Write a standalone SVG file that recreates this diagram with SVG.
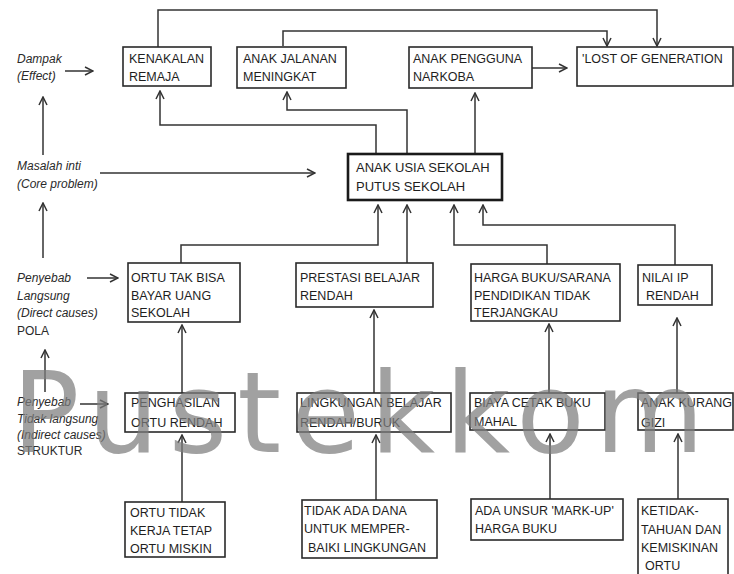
<svg xmlns="http://www.w3.org/2000/svg" width="734" height="574" viewBox="0 0 734 574">
<style>
.box{fill:#fff;stroke:#2a2a2a;stroke-width:1.6}
.core{fill:#fff;stroke:#1a1a1a;stroke-width:2.6}
.t{font-family:"Liberation Sans",Arial,sans-serif;font-size:12.5px;fill:#1e1e1e}
.tc{font-family:"Liberation Sans",Arial,sans-serif;font-size:13px;fill:#1e1e1e}
.lab{font-family:"Liberation Sans",Arial,sans-serif;font-size:12px;font-style:italic;fill:#2a2a2a}
.labn{font-family:"Liberation Sans",Arial,sans-serif;font-size:12px;fill:#2a2a2a}
.c{fill:none;stroke:#333;stroke-width:1.5}
.wm{font-family:"DejaVu Sans",sans-serif;font-size:112px;fill:#7d7d7d;opacity:0.72}
</style>
<defs>
<marker id="arr" viewBox="0 0 10 10" refX="9" refY="5" markerWidth="10" markerHeight="10" markerUnits="userSpaceOnUse" orient="auto">
<path d="M1,1 L9,5 L1,9" fill="none" stroke="#333" stroke-width="1.5"/>
</marker>
</defs>
<rect width="734" height="574" fill="#fff"/>

<g id="connectors">
<path class="c" d="M158,47 V10 H657 V46" marker-end="url(#arr)"/>
<path class="c" d="M283,46 V31 H607 V46" marker-end="url(#arr)"/>
<path class="c" d="M532,68 H567" marker-end="url(#arr)"/>
<path class="c" d="M376,154 V125 H160 V91" marker-end="url(#arr)"/>
<path class="c" d="M407,154 V110 H287 V92" marker-end="url(#arr)"/>
<path class="c" d="M475,154 V93" marker-end="url(#arr)"/>
<path class="c" d="M181,263 V245 H378 V205" marker-end="url(#arr)"/>
<path class="c" d="M407,263 V205" marker-end="url(#arr)"/>
<path class="c" d="M547,264 V245 H454 V205" marker-end="url(#arr)"/>
<path class="c" d="M675,265 V225 H483 V205" marker-end="url(#arr)"/>
<path class="c" d="M182,393 V325" marker-end="url(#arr)"/>
<path class="c" d="M374,393 V310" marker-end="url(#arr)"/>
<path class="c" d="M549,393 V324" marker-end="url(#arr)"/>
<path class="c" d="M677,393 V318" marker-end="url(#arr)"/>
<path class="c" d="M182,502 V435" marker-end="url(#arr)"/>
<path class="c" d="M376,500 V435" marker-end="url(#arr)"/>
<path class="c" d="M550,499 V434" marker-end="url(#arr)"/>
<path class="c" d="M678,499 V434" marker-end="url(#arr)"/>
<path class="c" d="M65,71 H93" marker-end="url(#arr)"/>
<path class="c" d="M43,155 V97" marker-end="url(#arr)"/>
<path class="c" d="M100,173 H315" marker-end="url(#arr)"/>
<path class="c" d="M43,258 V203" marker-end="url(#arr)"/>
<path class="c" d="M87,278 H118" marker-end="url(#arr)"/>
<path class="c" d="M45,392 V350" marker-end="url(#arr)"/>
<path class="c" d="M80,404 H108" marker-end="url(#arr)"/>
</g>

<g id="labels">
<text class="lab" x="17" y="63">Dampak</text>
<text class="lab" x="17" y="80">(Effect)</text>
<text class="lab" x="17" y="170">Masalah inti</text>
<text class="lab" x="17" y="188">(Core problem)</text>
<text class="lab" x="17" y="282">Penyebab</text>
<text class="lab" x="17" y="300">Langsung</text>
<text class="lab" x="17" y="317">(Direct causes)</text>
<text class="labn" x="17" y="335">POLA</text>
<text class="lab" x="17" y="406">Penyebab</text>
<text class="lab" x="17" y="423">Tidak langsung</text>
<text class="lab" x="17" y="439">(Indirect causes)</text>
<text class="labn" x="17" y="455">STRUKTUR</text>
</g>

<g id="n-kenakalan">
<rect class="box" x="123" y="47" width="88" height="39"/>
<text class="t" x="129" y="63">KENAKALAN</text>
<text class="t" x="129" y="81">REMAJA</text>
</g>
<g id="n-jalanan">
<rect class="box" x="237" y="47" width="109" height="41"/>
<text class="t" x="243" y="63">ANAK JALANAN</text>
<text class="t" x="243" y="81">MENINGKAT</text>
</g>
<g id="n-narkoba">
<rect class="box" x="409" y="47" width="123" height="41"/>
<text class="t" x="413" y="63">ANAK PENGGUNA</text>
<text class="t" x="413" y="81">NARKOBA</text>
</g>
<g id="n-lost">
<rect class="box" x="577" y="47" width="156" height="39"/>
<text class="t" x="582" y="63">'LOST OF GENERATION</text>
</g>

<g id="n-core">
<rect class="core" x="348" y="154" width="154" height="46"/>
<text class="tc" x="356" y="172">ANAK  USIA  SEKOLAH</text>
<text class="tc" x="356" y="191">PUTUS  SEKOLAH</text>
</g>

<g id="n-ortu-bayar">
<rect class="box" x="128" y="263" width="112" height="59"/>
<text class="t" x="131" y="282">ORTU  TAK  BISA</text>
<text class="t" x="131" y="300">BAYAR UANG</text>
<text class="t" x="131" y="317">SEKOLAH</text>
</g>
<g id="n-prestasi">
<rect class="box" x="296" y="263" width="137" height="44"/>
<text class="t" x="300" y="282">PRESTASI  BELAJAR</text>
<text class="t" x="300" y="300">RENDAH</text>
</g>
<g id="n-harga">
<rect class="box" x="471" y="264" width="149" height="57"/>
<text class="t" x="474" y="282">HARGA BUKU/SARANA</text>
<text class="t" x="474" y="300">PENDIDIKAN  TIDAK</text>
<text class="t" x="474" y="317">TERJANGKAU</text>
</g>
<g id="n-nilai">
<rect class="box" x="638" y="265" width="74" height="40"/>
<text class="t" x="642" y="282">NILAI  IP</text>
<text class="t" x="646" y="300">RENDAH</text>
</g>

<g id="n-penghasilan">
<rect class="box" x="125" y="393" width="110" height="39"/>
<text class="t" x="131" y="407">PENGHASILAN</text>
<text class="t" x="131" y="427">ORTU RENDAH</text>
</g>
<g id="n-lingkungan">
<rect class="box" x="297" y="393" width="154" height="39"/>
<text class="t" x="300" y="407">LINGKUNGAN BELAJAR</text>
<text class="t" x="300" y="427">RENDAH/BURUK</text>
</g>
<g id="n-biaya">
<rect class="box" x="470" y="393" width="135" height="37"/>
<text class="t" x="474" y="407">BIAYA CETAK BUKU</text>
<text class="t" x="474" y="426">MAHAL</text>
</g>
<g id="n-gizi">
<rect class="box" x="638" y="393" width="95" height="37"/>
<text class="t" x="641" y="407">ANAK KURANG</text>
<text class="t" x="641" y="427">GIZI</text>
</g>

<g id="n-ortu-kerja">
<rect class="box" x="125" y="502" width="100" height="55"/>
<text class="t" x="130" y="517">ORTU TIDAK</text>
<text class="t" x="130" y="535">KERJA TETAP</text>
<text class="t" x="130" y="553">ORTU MISKIN</text>
</g>
<g id="n-dana">
<rect class="box" x="302" y="500" width="135" height="58"/>
<text class="t" x="304" y="515">TIDAK ADA DANA</text>
<text class="t" x="304" y="533">UNTUK MEMPER-</text>
<text class="t" x="308" y="552">BAIKI LINGKUNGAN</text>
</g>
<g id="n-markup">
<rect class="box" x="471" y="499" width="152" height="41"/>
<text class="t" x="475" y="515">ADA UNSUR 'MARK-UP'</text>
<text class="t" x="475" y="533">HARGA BUKU</text>
</g>
<g id="n-ketidak">
<rect class="box" x="638" y="499" width="90" height="80"/>
<text class="t" x="641" y="515">KETIDAK-</text>
<text class="t" x="641" y="534">TAHUAN DAN</text>
<text class="t" x="641" y="552">KEMISKINAN</text>
<text class="t" x="645" y="570">ORTU</text>
</g>

<text class="wm" x="12" y="452" textLength="692" lengthAdjust="spacing">Pustekkom</text>
</svg>
